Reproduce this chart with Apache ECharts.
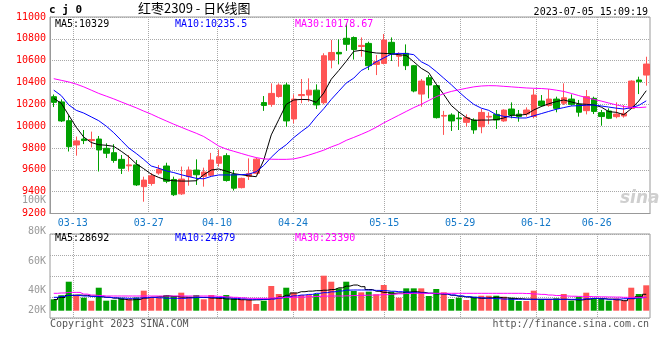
<!DOCTYPE html>
<html><head><meta charset="utf-8">
<script src="https://cdn.jsdelivr.net/npm/echarts@6/dist/echarts.min.js"></script>
<style>html,body{margin:0;padding:0;background:#fff}#c{width:660px;height:360px}</style>
</head><body><div id="c"></div>
<script>
const dates = ['03-08','03-09','03-10','03-13','03-14','03-15','03-16','03-17','03-20','03-21',
'03-22','03-23','03-24','03-27','03-28','03-29','03-30','03-31','04-03','04-04',
'04-06','04-07','04-10','04-11','04-12','04-13','04-14','04-17','04-18','04-19',
'04-20','04-21','04-24','04-25','04-26','04-27','04-28','05-04','05-05','05-08',
'05-09','05-10','05-11','05-12','05-15','05-16','05-17','05-18','05-19','05-22',
'05-23','05-24','05-25','05-26','05-29','05-30','05-31','06-01','06-02','06-05',
'06-06','06-07','06-08','06-09','06-12','06-13','06-14','06-15','06-16','06-19',
'06-20','06-21','06-26','06-27','06-28','06-29','06-30','07-03','07-04','07-05'];
const labelDates = ['03-13','03-27','04-10','04-24','05-15','05-29','06-12','06-26'];

const opens = [10270,10222,10050,9828,9882,9868,9882,9797,9757,9696,
9637,9645,9446,9475,9570,9635,9512,9380,9538,9598,
9540,9550,9660,9730,9558,9437,9540,9568,10216,10200,
10272,10377,10066,10280,10285,10330,10215,10607,10676,10805,
10812,10730,10758,10566,10575,10768,10640,10667,10554,10294,
10444,10371,10092,10102,10075,10035,10056,9995,10083,10108,
10048,10157,10110,10111,10088,10230,10190,10248,10210,10248,
10200,10142,10255,10124,10139,10087,10093,10163,10423,10468];
const closes = [10218,10048,9812,9865,9868,9878,9782,9752,9686,9614,
9645,9462,9506,9545,9605,9495,9372,9515,9598,9555,
9580,9690,9720,9502,9432,9522,9565,9698,10190,10300,
10376,10048,10248,10290,10330,10195,10645,10675,10662,10750,
10702,10740,10554,10591,10789,10661,10650,10554,10322,10413,
10377,10078,10098,10048,10068,10078,9966,10126,10090,10057,
10147,10103,10088,10148,10285,10188,10248,10163,10260,10200,
10128,10270,10135,10088,10072,10111,10117,10413,10407,10569];
const lows = [10175,10038,9768,9730,9836,9806,9585,9708,9665,9562,
9585,9452,9308,9455,9555,9478,9360,9370,9455,9462,
9446,9537,9630,9492,9410,9430,9507,9559,10140,10178,
10261,9995,10026,10210,10224,10157,10200,10530,10566,10690,
10610,10636,10514,10468,10566,10597,10545,10514,10310,10178,
10255,10070,9920,9956,9965,9995,9930,9935,10017,9975,
10040,10072,10041,10087,10072,10178,10178,10127,10194,10188,
10087,10108,10111,10004,10065,10072,10078,10157,10294,10371];
const highs = [10290,10245,10100,9905,9965,9950,9910,9843,9835,9736,
9736,9690,9537,9570,9644,9665,9537,9630,9630,9696,
9620,9755,9785,9752,9598,9528,9705,9712,10276,10392,
10392,10398,10292,10432,10438,10383,10668,10790,10795,10940,
10822,10813,10774,10652,10844,10813,10676,10749,10560,10432,
10468,10377,10140,10118,10133,10108,10072,10157,10127,10148,
10155,10218,10148,10172,10340,10285,10340,10270,10392,10291,
10240,10331,10270,10148,10163,10218,10194,10420,10453,10636];

const ma5 = [10255,10210,10100,9990,9900,9850,9830,9825,9815,9770,
9720,9655,9610,9560,9530,9508,9500,9497,9497,9500,
9555,9598,9608,9588,9565,9555,9545,9537,9690,9920,
10060,10200,10240,10245,10243,10218,10303,10430,10510,10595,
10685,10695,10680,10670,10667,10662,10655,10648,10590,10530,
10490,10385,10290,10190,10130,10080,10053,10056,10056,10060,
10075,10100,10100,10108,10148,10180,10205,10225,10240,10222,
10205,10200,10195,10175,10133,10127,10105,10160,10230,10325];
const ma10 = [10330,10280,10195,10145,10120,10085,10050,10000,9940,9870,
9800,9750,9695,9635,9615,9590,9575,9555,9538,9522,
9518,9540,9553,9553,9553,9556,9560,9583,9640,9715,
9780,9830,9895,9950,10000,10085,10160,10245,10320,10395,
10440,10510,10545,10590,10625,10660,10667,10665,10655,10590,
10555,10500,10440,10380,10315,10255,10200,10165,10145,10105,
10090,10082,10075,10075,10095,10115,10135,10155,10170,10185,
10188,10192,10194,10185,10175,10165,10157,10170,10190,10232];
const ma30 = [10435,10420,10405,10385,10360,10330,10300,10275,10250,10222,
10195,10168,10138,10110,10078,10048,10018,9990,9962,9935,
9905,9862,9818,9790,9770,9750,9730,9712,9700,9697,
9696,9696,9700,9715,9735,9757,9780,9810,9835,9870,
9897,9925,9955,9990,10030,10065,10100,10135,10170,10200,
10235,10270,10298,10318,10333,10347,10360,10368,10371,10370,
10365,10360,10355,10350,10347,10345,10340,10330,10318,10300,
10280,10262,10245,10230,10212,10195,10180,10172,10170,10175];

const volumes = [19900,27000,50700,27000,22700,17300,40200,17500,19000,22500,
19900,23000,35000,23000,23000,27400,25700,31500,24500,27400,
19900,27400,22500,27400,21600,19900,19900,11700,17500,43200,
29200,40200,31500,27400,27400,29200,61200,50700,39100,50700,
34400,32100,33300,28700,44900,33300,22700,39100,39100,39100,
25700,37900,32100,20500,22700,18700,24500,26200,26200,26200,
24500,22700,17000,17000,35000,19900,19900,21600,29200,17500,
24500,31500,21600,21600,17500,21600,17500,40200,29200,44400];
const volMa5 = [19500,23000,26500,27400,27000,25500,24500,23500,22000,20000,
19000,19500,22000,23500,24500,25700,25000,23800,23400,23400,
23000,22000,21500,20500,19900,19200,18700,19000,19900,21000,
24000,27000,31000,33200,34200,35000,35800,37000,40000,43000,
44900,42000,37000,34000,32000,30400,31000,32500,33200,32000,
30500,29500,29200,27000,25200,24000,22500,21600,22500,23400,
22500,21600,21000,20200,19900,19900,19900,19900,19900,19200,
18700,20000,21400,21000,20200,19000,17500,21000,24500,28700];
const volMa10 = [23400,25000,27000,26500,25700,25000,24500,23500,22500,22000,
21600,22000,22800,23400,22500,21800,21600,21600,22300,23200,
23400,23400,23200,22500,21600,20800,20000,19900,19900,20500,
22000,24500,26000,27400,28500,30400,31500,33000,34500,36000,
36200,36200,36000,35500,35000,34000,33200,32300,31500,31000,
30400,29800,29200,27500,26000,24500,23400,22500,21600,21000,
20200,19900,19900,19900,19900,19900,19900,19900,19900,19900,
19900,20800,21600,20800,19900,20200,21000,21600,22500,23400];
const volMa30 = [30400,31000,32000,32000,29000,27400,26500,25700,25700,25700,
25700,25700,25700,25700,25700,25700,25700,25700,25700,25700,
25700,25700,25000,24000,23400,22500,21600,21600,21600,22200,
23000,23400,23400,23800,24500,25000,25500,25700,25700,26000,
26500,26800,27200,27600,28100,28800,29500,30000,30400,30400,
30400,30400,30400,30400,30400,30400,30400,30400,30400,30400,
30400,30400,30400,30000,29200,28500,27400,26500,25700,25300,
25000,24800,24500,24200,24000,23800,23400,23400,23400,23400];

const priceMin = 9200, priceMax = 11000, priceStep = 200;
const volTickLabels = ['100K','80K','60K','40K','20K'];
const volTickY = [200, 231, 261, 290, 310];

const RED = '#ff5555', GREEN = '#00a000';
const MONO = '"DejaVu Sans Mono", monospace';
const labelIdx = new Set(labelDates.map(d => dates.indexOf(d)));
const showAt = (i) => labelIdx.has(i);
const dotted = {show: true, lineStyle: {color: '#a8a8a8', type: [1, 1], width: 1}};

const candleData = dates.map((d, i) => [opens[i], closes[i], lows[i], highs[i]]);
const volData = volumes.map((v, i) => ({value: v, itemStyle: {color: closes[i] >= opens[i] ? RED : GREEN}}));

function txt(text, x, y, color, font, align) {
  return {type: 'text', x: x, y: y, silent: true, z: 100,
    style: {text: text, fill: color, font: font, align: align || 'left', verticalAlign: 'middle',
            textAlign: align || 'left', textVerticalAlign: 'middle'}};
}

const graphics = [
  txt('c j 0', 49, 10.5, '#000', 'bold 11px ' + MONO),
  txt('红枣2309 - 日K线图', 138, 8.5, '#000', '13px "Noto Sans CJK SC", sans-serif'),
  txt('2023-07-05 15:09:19', 648, 12, '#000', '10px ' + MONO, 'right'),
  txt('MA5:10329', 55, 24, '#000', '10px ' + MONO),
  txt('MA10:10235.5', 175, 24, '#0000ff', '10px ' + MONO),
  txt('MA30:10178.67', 295, 24, '#ff00ff', '10px ' + MONO),
  txt('MA5:28692', 55, 238.5, '#000', '10px ' + MONO),
  txt('MA10:24879', 175, 238.5, '#0000ff', '10px ' + MONO),
  txt('MA30:23390', 295, 238.5, '#ff00ff', '10px ' + MONO),
  txt('Copyright 2023 SINA.COM', 50, 324, '#555', '10px ' + MONO),
  txt('http://finance.sina.com.cn', 649, 324, '#555', '10px ' + MONO, 'right'),
  txt('sina', 620, 199, '#cfcfcf', 'italic bold 17px "DejaVu Sans", sans-serif')
];
volTickLabels.forEach((t, k) => graphics.push(txt(t, 46, volTickY[k], '#9a9a9a', '10px ' + MONO, 'right')));

const chart = echarts.init(document.getElementById('c'), null, {renderer: 'canvas'});
chart.setOption({
  animation: false,
  backgroundColor: '#fff',
  grid: [
    {left: 50, top: 17, width: 600, height: 196.5, show: true, borderColor: '#999', borderWidth: 1},
    {left: 50, top: 234, width: 600, height: 84, show: true, borderColor: '#999', borderWidth: 1}
  ],
  xAxis: [
    {gridIndex: 0, type: 'category', data: dates, boundaryGap: true, position: 'top', show: false},
    {gridIndex: 0, type: 'category', data: dates, boundaryGap: false, position: 'bottom',
      axisLine: {show: true, lineStyle: {color: '#999'}}, axisTick: {show: false},
      axisLabel: {interval: showAt, color: '#1478c8', fontFamily: MONO, fontSize: 10, margin: 5},
      splitLine: Object.assign({interval: showAt}, dotted)},
    {gridIndex: 1, type: 'category', data: dates, boundaryGap: true, position: 'top', show: false},
    {gridIndex: 1, type: 'category', data: dates, boundaryGap: false, position: 'bottom',
      axisLine: {show: false}, axisTick: {show: false}, axisLabel: {show: false},
      splitLine: Object.assign({interval: showAt}, dotted)}
  ],
  yAxis: [
    {gridIndex: 0, type: 'value', min: priceMin, max: priceMax, interval: priceStep, position: 'left',
      axisLine: {show: true, lineStyle: {color: '#999'}}, axisTick: {show: false},
      axisLabel: {color: '#ff0000', fontFamily: MONO, fontSize: 10, margin: 4, formatter: (v) => String(v)},
      splitLine: dotted},
    {gridIndex: 1, type: 'value', min: -12760, max: 134100, show: false, splitLine: {show: false}},
    {gridIndex: 1, type: 'value', min: 0, max: 4, interval: 1, position: 'right',
      axisLine: {show: false}, axisTick: {show: false}, axisLabel: {show: false}, splitLine: dotted}
  ],
  series: [
    {type: 'candlestick', xAxisIndex: 0, yAxisIndex: 0, data: candleData, barWidth: 6,
      itemStyle: {color: RED, color0: GREEN, borderColor: RED, borderColor0: GREEN, borderWidth: 1}},
    {type: 'line', xAxisIndex: 0, yAxisIndex: 0, data: ma5, symbol: 'none', lineStyle: {color: '#000', width: 1}},
    {type: 'line', xAxisIndex: 0, yAxisIndex: 0, data: ma10, symbol: 'none', lineStyle: {color: '#0000ff', width: 1}},
    {type: 'line', xAxisIndex: 0, yAxisIndex: 0, data: ma30, symbol: 'none', lineStyle: {color: '#ff00ff', width: 1}},
    {type: 'bar', xAxisIndex: 2, yAxisIndex: 1, data: volData, barWidth: 6},
    {type: 'line', xAxisIndex: 2, yAxisIndex: 1, data: volMa5, step: 'middle', symbol: 'none', lineStyle: {color: '#000', width: 1}},
    {type: 'line', xAxisIndex: 2, yAxisIndex: 1, data: volMa10, step: 'middle', symbol: 'none', lineStyle: {color: '#0000ff', width: 1}},
    {type: 'line', xAxisIndex: 2, yAxisIndex: 1, data: volMa30, step: 'middle', symbol: 'none', lineStyle: {color: '#ff00ff', width: 1}}
  ],
  graphic: graphics
});
</script>
</body></html>
